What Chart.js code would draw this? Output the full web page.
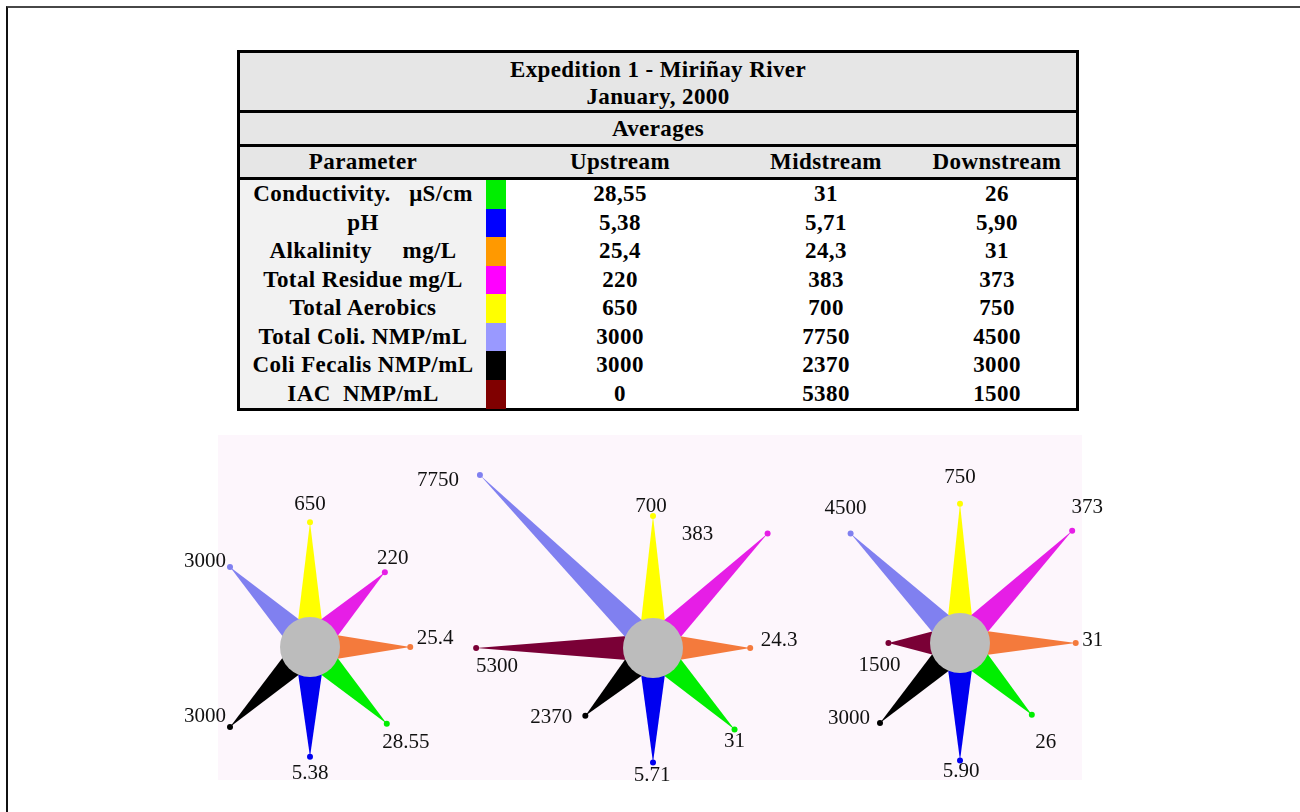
<!DOCTYPE html>
<html>
<head>
<meta charset="utf-8">
<script src="https://cdn.jsdelivr.net/npm/chart.js@4.4.1/dist/chart.umd.min.js"></script>
<style>
html, body { margin: 0; padding: 0; background: #fff; }
body { width: 1300px; height: 812px; position: relative; overflow: hidden;
       font-family: "Liberation Serif", "Times New Roman", serif; }
#frame { position: absolute; left: 6px; top: 6px; width: 1320px; height: 830px;
         border-top: 2px solid #474747; border-left: 2px solid #111; }
#tbl { position: absolute; left: 237px; top: 50px; width: 842px; height: 361px;
       border: 3px solid #000; box-sizing: border-box; background: #fff; }
.band { position: absolute; left: 0; width: 836px; background: #e6e6e6;
        border-bottom: 3px solid #000; font-weight: bold; font-size: 23px;
        color: #000; }
.cell { position: absolute; text-align: center; white-space: pre;
        font-weight: bold; font-size: 23px; color: #000; letter-spacing: 0.4px; }
#panel { position: absolute; left: 218px; top: 435px; width: 864px; height: 345px;
         background: #fdf6fc; }
canvas.star { position: absolute; }
</style>
</head>
<body>
<div id="frame"></div>
<div id="tbl"></div>
<div id="panel"></div>
<canvas id="up" class="star" width="540" height="540" style="left:40px;top:377px"></canvas>
<canvas id="mid" class="star" width="540" height="540" style="left:383px;top:378px"></canvas>
<canvas id="down" class="star" width="540" height="540" style="left:690px;top:373px"></canvas>
<script>
// ---------- table data ----------
const titleLines = ["Expedition 1 - Miriñay River", "January, 2000"];
const subTitle = "Averages";
const columns = ["Parameter", "Upstream", "Midstream", "Downstream"];
const parameters = [
    "Conductivity.   μS/cm",
    "pH",
    "Alkalinity     mg/L",
    "Total Residue mg/L",
    "Total Aerobics",
    "Total Coli. NMP/mL",
    "Coli Fecalis NMP/mL",
    "IAC  NMP/mL"
];
const swatches = ["#00ee00", "#0000ff", "#ff9900", "#ff00ff",
                  "#ffff00", "#9999ff", "#000000", "#800000"];
const upstream   = ["28,55", "5,38", "25,4", "220", "650", "3000", "3000", "0"];
const midstream  = ["31", "5,71", "24,3", "383", "700", "7750", "2370", "5380"];
const downstream = ["26", "5,90", "31", "373", "750", "4500", "3000", "1500"];

// ---------- star data (clockwise from top) ----------
const directions = ["Total Aerobics", "Total Residue", "Alkalinity", "Conductivity",
                    "pH", "Coli Fecalis", "IAC", "Total Coli."];
const axisFull = [823, 348, 43.4, 43.6, 8.1, 4330, 4330, 4330];
const upStar   = [650, 220, 25.4, 28.55, 5.38, 3000, 0, 3000];
const midStar  = [700, 383, 24.3, 31, 5.71, 2370, 5300, 7750];
const downStar = [750, 373, 31, 26, 5.90, 3000, 1500, 4500];
const upText   = ["650", "220", "25.4", "28.55", "5.38", "3000", "", "3000"];
const midText  = ["700", "383", "24.3", "31", "5.71", "2370", "5300", "7750"];
const downText = ["750", "373", "31", "26", "5.90", "3000", "1500", "4500"];

// star look
const spokeColors = ["#ffff00", "#e61ee6", "#f47a3c", "#00ee00",
                     "#0000f0", "#000000", "#7a0036", "#8080f0"];
const HUB = 30, SPAN = 120, RADIUS = 270;
const upOffsets   = [[0,-18],[8,-14],[25,-9],[19,19],[0,17],[-25,-11],[0,0],[-25,-6]];
const midOffsets  = [[-2,-9],[-70,1],[29,-8],[0,12],[-1,13],[-34,2],[21,18],[-42,6]];
const downOffsets = [[0,-26],[15,-23],[17,-3],[14,28],[1,11],[-31,-5],[-9,22],[-5,-25]];

// =======================
// TABLE
// =======================
const tbl = document.getElementById("tbl");

function add(parent, cls, css, text) {
    const d = document.createElement("div");
    d.className = cls;
    d.style.cssText = css;
    if (text !== undefined) d.textContent = text;
    parent.appendChild(d);
    return d;
}

const t1 = add(tbl, "band", "top:0;height:57px;");
add(t1, "cell", "left:0;width:836px;top:3px;line-height:27px;", titleLines[0]);
add(t1, "cell", "left:0;width:836px;top:30px;line-height:27px;", titleLines[1]);

const t2 = add(tbl, "band", "top:60px;height:31px;");
add(t2, "cell", "left:0;width:836px;top:0;line-height:31px;", subTitle);

// column edges (inner coords)
const colLeft  = [0, 266, 494, 678];
const colWidth = [246, 228, 184, 158];

const t3 = add(tbl, "band", "top:94px;height:30px;");
columns.forEach((c, i) => {
    add(t3, "cell", `left:${colLeft[i]}px;width:${colWidth[i]}px;top:0;line-height:30px;`, c);
});

const ROW = 28.5, BODY_TOP = 127;
add(tbl, "", `position:absolute;left:0;top:${BODY_TOP}px;width:246px;height:${ROW * 8}px;background:#f2f2f2;`);
parameters.forEach((p, r) => {
    const top = BODY_TOP + r * ROW;
    add(tbl, "cell", `left:0;width:246px;top:${top}px;height:${ROW}px;line-height:${ROW}px;`, p);
    add(tbl, "", `position:absolute;left:246px;width:20px;top:${top}px;height:${ROW + 0.5}px;background:${swatches[r]};`);
    [upstream, midstream, downstream].forEach((col, c) => {
        add(tbl, "cell", `left:${colLeft[c + 1]}px;width:${colWidth[c + 1]}px;top:${top}px;height:${ROW}px;line-height:${ROW}px;`, col[r]);
    });
});

// =======================
// STARS
// =======================
const starPlugin = {
    id: "star",
    beforeDatasetsDraw(chart) {
        const ctx = chart.ctx;
        const r = chart.scales.r;
        const cx = r.xCenter, cy = r.yCenter;
        const hub = r.getDistanceFromCenterForValue(0);
        const vals = chart.data.datasets[0].data;
        const pts = chart.getDatasetMeta(0).data;
        ctx.save();
        pts.forEach((p, i) => {
            if (!(vals[i] > 0)) return;
            const a = Math.atan2(p.y - cy, p.x - cx);
            const bx = cx + Math.cos(a) * (hub - 4);
            const by = cy + Math.sin(a) * (hub - 4);
            const nx = -Math.sin(a) * 12, ny = Math.cos(a) * 12;
            ctx.beginPath();
            ctx.moveTo(bx + nx, by + ny);
            ctx.lineTo(p.x, p.y);
            ctx.lineTo(bx - nx, by - ny);
            ctx.closePath();
            ctx.fillStyle = spokeColors[i];
            ctx.fill();
        });
        ctx.beginPath();
        ctx.arc(cx, cy, hub, 0, Math.PI * 2);
        ctx.fillStyle = "#bcbcbc";
        ctx.fill();
        ctx.restore();
    },
    afterDatasetsDraw(chart, args, opts) {
        const ctx = chart.ctx;
        const pts = chart.getDatasetMeta(0).data;
        ctx.save();
        ctx.font = '21px "Liberation Serif"';
        ctx.fillStyle = "#111";
        ctx.textAlign = "center";
        ctx.textBaseline = "middle";
        pts.forEach((p, i) => {
            const txt = opts.texts[i];
            if (!txt) return;
            ctx.fillText(txt, p.x + opts.offsets[i][0], p.y + opts.offsets[i][1]);
        });
        ctx.restore();
    }
};

function makeStar(id, values, texts, offsets) {
    return new Chart(document.getElementById(id), {
        type: "radar",
        data: {
            labels: directions,
            datasets: [{
                data: values.map((v, i) => v / axisFull[i]),
                showLine: false,
                fill: false,
                borderWidth: 0,
                backgroundColor: "transparent",
                pointRadius: values.map(v => v > 0 ? 3 : 0),
                pointHoverRadius: 0,
                pointBorderWidth: 0,
                pointBackgroundColor: spokeColors
            }]
        },
        options: {
            responsive: false,
            animation: false,
            events: [],
            layout: { padding: 0 },
            plugins: {
                legend: { display: false },
                tooltip: { enabled: false },
                star: { texts: texts, offsets: offsets }
            },
            scales: {
                r: {
                    min: -HUB / SPAN,
                    max: (RADIUS - HUB) / SPAN,
                    ticks: { display: false },
                    grid: { display: false },
                    angleLines: { display: false },
                    pointLabels: { display: false }
                }
            }
        },
        plugins: [starPlugin]
    });
}

makeStar("up", upStar, upText, upOffsets);
makeStar("mid", midStar, midText, midOffsets);
makeStar("down", downStar, downText, downOffsets);
</script>
</body>
</html>
